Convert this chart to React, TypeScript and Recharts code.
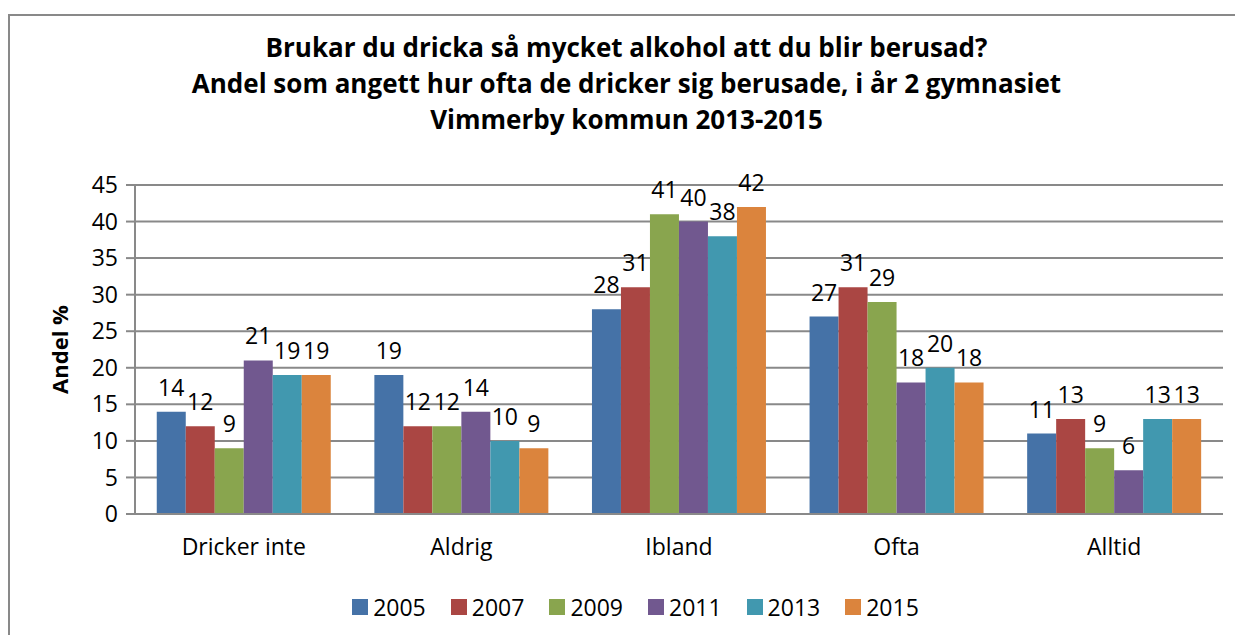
import { Bar, BarChart, CartesianGrid, LabelList, Legend, XAxis, YAxis } from "recharts";

const CATEGORIES = ["Dricker inte", "Aldrig", "Ibland", "Ofta", "Alltid"];
const YEARS = ["2005", "2007", "2009", "2011", "2013", "2015"];
const COLORS = ["#4572A7", "#AA4643", "#89A54E", "#71588F", "#4198AF", "#DB843D"];

const V2005 = [14, 19, 28, 27, 11];
const V2007 = [12, 12, 31, 31, 13];
const V2009 = [9, 12, 41, 29, 9];
const V2011 = [21, 14, 40, 18, 6];
const V2013 = [19, 10, 38, 20, 13];
const V2015 = [19, 9, 42, 18, 13];

const SERIES = [V2005, V2007, V2009, V2011, V2013, V2015];
const Y_TICKS = [0, 5, 10, 15, 20, 25, 30, 35, 40, 45];

const TITLE = [
  "Brukar du dricka så mycket alkohol att du blir berusad?",
  "Andel som angett hur ofta de dricker sig berusade, i år 2 gymnasiet",
  "Vimmerby kommun 2013-2015",
];

const data = CATEGORIES.map((name, i) => {
  const row: Record<string, string | number> = { name };
  YEARS.forEach((y, j) => {
    row[y] = SERIES[j][i];
  });
  return row;
});

const FONT = "'Open Sans', sans-serif";
const GRID = "#898989";

function LegendContent() {
  return (
    <div
      style={{
        display: "flex",
        justifyContent: "center",
        gap: 25,
        paddingLeft: 38,
        fontFamily: FONT,
        fontSize: 23,
        color: "#000",
      }}
    >
      {YEARS.map((y, i) => (
        <div key={y} style={{ display: "flex", alignItems: "center", gap: 5 }}>
          <span style={{ width: 16, height: 16, background: COLORS[i], display: "inline-block" }} />
          <span>{y}</span>
        </div>
      ))}
    </div>
  );
}

export default function App() {
  return (
    <div style={{ paddingTop: 6 }}>
      <div
        style={{
          position: "relative",
          width: 1233,
          height: 619,
          borderTop: `2px solid ${GRID}`,
          borderLeft: `2px solid ${GRID}`,
          fontFamily: FONT,
          background: "#fff",
        }}
      >
        <div
          style={{
            position: "absolute",
            top: 13,
            left: 0,
            width: "100%",
            textAlign: "center",
            fontWeight: 700,
            fontSize: 26,
            lineHeight: "36px",
            color: "#000",
          }}
        >
          {TITLE.map((t) => (
            <div key={t}>{t}</div>
          ))}
        </div>
        <BarChart
          width={1233}
          height={619}
          data={data}
          margin={{ top: 169, right: 20, bottom: 20, left: 0 }}
          barCategoryGap="10%"
          barGap={0}
        >
          <CartesianGrid vertical={false} stroke={GRID} strokeWidth={2} />
          <XAxis
            dataKey="name"
            height={77}
            tickLine={false}
            axisLine={{ stroke: GRID, strokeWidth: 2 }}
            tick={{ fill: "#000", fontSize: 23, fontFamily: FONT }}
            tickMargin={19}
          />
          <YAxis
            width={125}
            domain={[0, 45]}
            ticks={Y_TICKS}
            interval={0}
            tickSize={9}
            tickMargin={8}
            tickLine={{ stroke: GRID, strokeWidth: 2 }}
            axisLine={{ stroke: GRID, strokeWidth: 2 }}
            tick={{ fill: "#000", fontSize: 23, fontFamily: FONT }}
            label={{
              content: ({ viewBox }: any) => {
                const cx = viewBox.x + 49;
                const cy = viewBox.y + viewBox.height / 2;
                return (
                  <text
                    x={cx}
                    y={cy}
                    transform={`rotate(-90 ${cx} ${cy})`}
                    textAnchor="middle"
                    dominantBaseline="central"
                    fontWeight={700}
                    fontSize={22}
                    fontFamily={FONT}
                    fill="#000"
                  >
                    Andel %
                  </text>
                );
              },
            }}
          />
          <Legend verticalAlign="bottom" height={24} content={<LegendContent />} />
          {YEARS.map((y, i) => (
            <Bar key={y} dataKey={y} fill={COLORS[i]} isAnimationActive={false}>
              <LabelList dataKey={y} position="top" offset={16} fill="#000" fontSize={23} fontFamily={FONT} />
            </Bar>
          ))}
        </BarChart>
      </div>
    </div>
  );
}
